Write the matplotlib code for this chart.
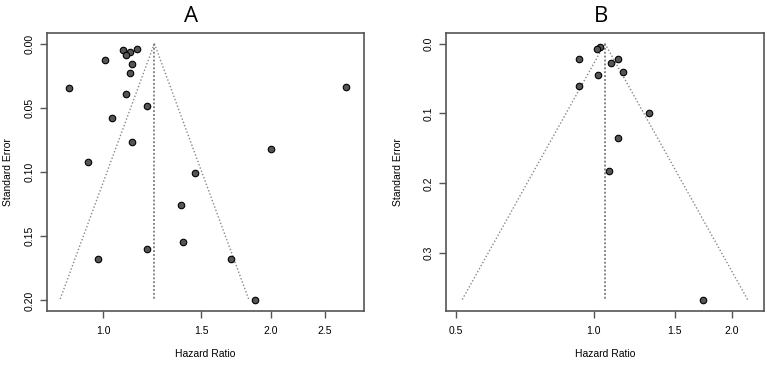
import matplotlib.pyplot as plt
import numpy as np
from matplotlib.ticker import FixedLocator, FixedFormatter, NullLocator

plt.rcParams['font.family'] = ['Liberation Sans', 'DejaVu Sans']

# panel A: hazard ratios and standard errors of the studies
hr_a = [1.086, 1.148, 1.118, 1.097, 1.007, 1.127, 1.118, 0.867, 2.726, 1.097, 1.196,
        1.038, 1.127, 2.002, 0.937, 1.458, 1.378, 1.388, 1.196, 0.977, 1.699, 1.874]
se_a = [0.0047, 0.0042, 0.0068, 0.0091, 0.0125, 0.0156, 0.0226, 0.0348, 0.0340, 0.0392, 0.0488,
        0.0582, 0.0766, 0.0823, 0.0922, 0.1005, 0.1260, 0.1548, 0.1603, 0.1678, 0.1680, 0.2000]
pooled_a = 1.235

# panel B
hr_b = [1.029, 1.0135, 0.930, 1.130, 1.089, 1.159, 1.0186, 0.930, 1.317, 1.130, 1.080, 1.728]
se_b = [0.0048, 0.0076, 0.0215, 0.0225, 0.0277, 0.0411, 0.0444, 0.0602, 0.0999, 0.1347, 0.1816, 0.3674]
pooled_b = 1.057

xticks_a = [1.0, 1.5, 2.0, 2.5]
xtick_labels_a = ["1.0", "1.5", "2.0", "2.5"]
yticks_a = [0.00, 0.05, 0.10, 0.15, 0.20]
ytick_labels_a = ["0.00", "0.05", "0.10", "0.15", "0.20"]

xticks_b = [0.5, 1.0, 1.5, 2.0]
xtick_labels_b = ["0.5", "1.0", "1.5", "2.0"]
yticks_b = [0.0, 0.1, 0.2, 0.3]
ytick_labels_b = ["0.0", "0.1", "0.2", "0.3"]

spine_col = "#555555"
line_col = "#888888"


def funnel(ax, hr, se, pooled, xticks, xlabels, yticks, ylabels, xlim, ylabel_x):
    se_max = max(se)
    # funnel lines (pseudo 95% limits on the log scale)
    se_line = np.array([0.0, se_max])
    ax.plot(np.exp(np.log(pooled) - 1.96 * se_line), se_line, ls=(0, (1, 1.5)), color=line_col, lw=1)
    ax.plot(np.exp(np.log(pooled) + 1.96 * se_line), se_line, ls=(0, (1, 1.5)), color=line_col, lw=1)
    ax.plot([pooled, pooled], [0, se_max], ls=(0, (1, 1)), color=line_col, lw=1.4)
    ax.scatter(hr, se, s=22, facecolor="#555555", edgecolor="black", linewidths=0.8, zorder=3)

    ax.set_xscale('log')
    ax.set_xlim(xlim)
    pad = se_max * 0.04
    ax.set_ylim(se_max + pad, -pad)
    ax.xaxis.set_major_locator(FixedLocator(xticks))
    ax.xaxis.set_major_formatter(FixedFormatter(xlabels))
    ax.xaxis.set_minor_locator(NullLocator())
    ax.set_yticks(yticks)
    ax.set_yticklabels(ylabels, rotation=90, va='center')
    ax.tick_params(axis='both', length=5, width=1, color=spine_col, labelsize=7.5, pad=6)
    ax.tick_params(axis='y', pad=4)
    for s in ax.spines.values():
        s.set_color(spine_col)
        s.set_linewidth(1.2)
    ax.set_xlabel("Hazard Ratio", fontsize=7.5)
    ax.set_ylabel("Standard Error", fontsize=7.5)
    ax.xaxis.set_label_coords(0.5, -0.138)
    ax.yaxis.set_label_coords(ylabel_x, 0.5)


fig = plt.figure(figsize=(7.67, 3.65), dpi=100)
ax_a = fig.add_axes([0.0609, 0.1488, 0.4137, 0.760])
ax_b = fig.add_axes([0.5819, 0.1488, 0.4142, 0.760])

funnel(ax_a, hr_a, se_a, pooled_a, xticks_a, xtick_labels_a, yticks_a, ytick_labels_a,
       (0.791, 2.94), -0.105)
funnel(ax_b, hr_b, se_b, pooled_b, xticks_b, xtick_labels_b, yticks_b, ytick_labels_b,
       (0.476, 2.353), -0.135)

fig.text(191 / 767, 1 - 16 / 365, "A", fontsize=16, ha='center', va='center', family=['Open Sans', 'DejaVu Sans'])
fig.text(601 / 767, 1 - 16 / 365, "B", fontsize=16, ha='center', va='center', family=['Open Sans', 'DejaVu Sans'])

fig.savefig("out.png", dpi=100)
plt.close()
